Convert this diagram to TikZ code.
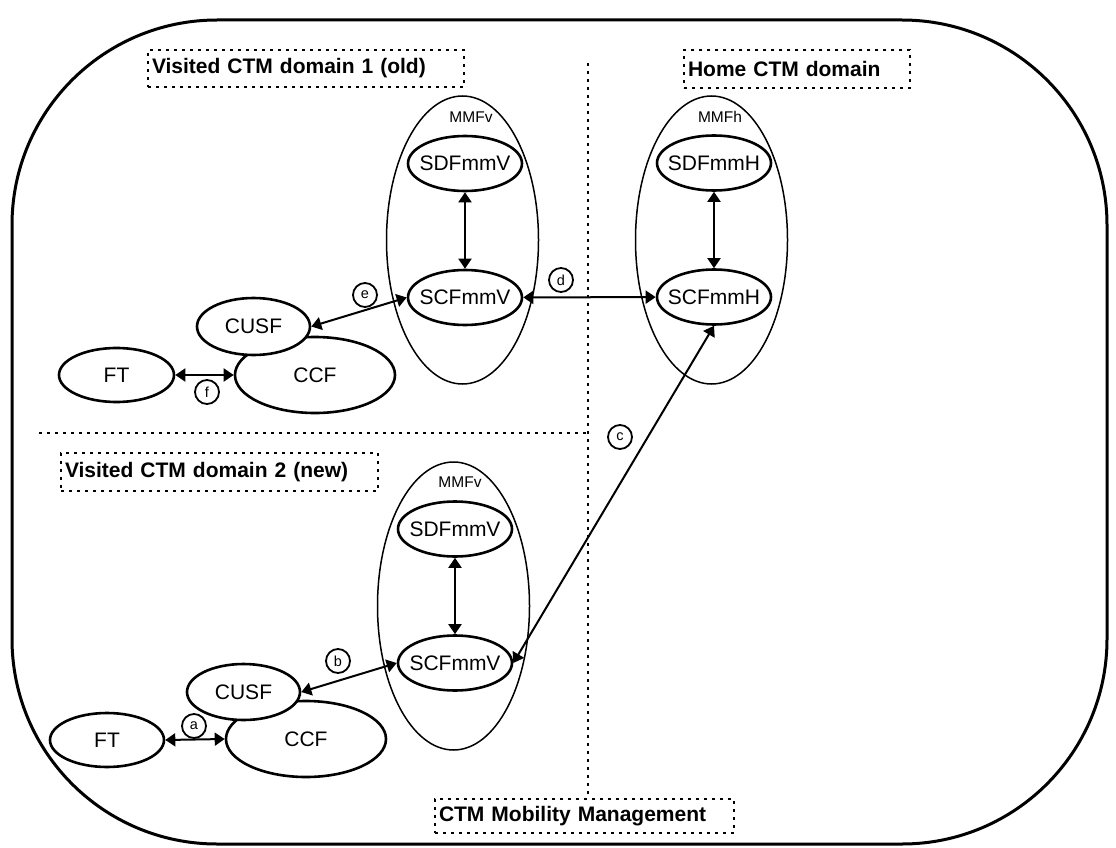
\documentclass[tikz,border=0pt]{standalone}
\usepackage{fontspec}
\setmainfont{Liberation Sans}
\usetikzlibrary{shapes.geometric, arrows.meta, positioning}

\begin{document}
\begin{tikzpicture}[x=1pt, y=1pt, node distance=134pt, >={Triangle[length=10pt, width=13pt]}, font=\fontsize{21pt}{24pt}\selectfont,
    func/.style = {draw, fill=white, ellipse, line width=2.6pt, inner sep=0pt, minimum width=114pt, minimum height=55pt,
                   execute at begin node={\hbox to 0pt\bgroup\hss}, execute at end node={\hss\egroup}},
    mmf/.style = {draw, ellipse, line width=1.5pt, minimum width=152pt, minimum height=288pt},
    dom/.style = {draw, line width=2pt, dash pattern=on 3pt off 5pt, anchor=north west, align=left, inner xsep=4pt, inner ysep=0pt,
                  font=\fontsize{21pt}{24pt}\selectfont\bfseries},
    iface/.style = {draw, circle, line width=1.8pt, minimum size=24pt, inner sep=0pt, font=\fontsize{14.5pt}{16pt}\selectfont},
    sub/.style = {font=\fontsize{15.5pt}{18pt}\selectfont},
    link/.style = {<->, line width=2pt},
    divider/.style = {line width=2pt, dash pattern=on 3pt off 5pt}]
    \useasboundingbox (0,0) rectangle (1116,-848);
    % frame and domain borders
    \draw[line width=3pt, rounded corners=205pt] (12,-20) rectangle (1107,-844);
    \draw[divider] (588,-63) -- (588,-798);
    \draw[divider] (39,-433) -- (588,-433);
    \node[dom, text width=308pt, minimum height=37pt] (dom1) at (147,-49) {Visited CTM domain 1 (old)};
    \node[dom, text width=218pt, minimum height=38pt] (home) at (683,-49) {Home CTM domain};
    \node[dom, text width=309pt, minimum height=38pt] (dom2) at (60,-452) {Visited CTM domain 2 (new)};
    \node[dom, text width=291pt, minimum height=34pt] (mobility) at (434,-798) {CTM Mobility Management};
    % mobility management functions
    \node[mmf] (mmfv1) at (462.5,-240) {};
    \node[mmf] (mmfh) at (711.5,-240) {};
    \node[mmf] (mmfv2) at (453.5,-606) {};
    \node[sub] (mmfv1name) at (471,-117) {MMFv};
    \node[sub] (mmfhname) at (720,-117) {MMFh};
    \node[sub] (mmfv2name) at (460,-482) {MMFv};
    \node[func] (sdfv1) at (465,-163.5) {SDFmmV};
    \node[func] (scfv1) [below of=sdfv1] {SCFmmV};
    \node[func] (sdfh) at (714,-163) {SDFmmH};
    \node[func] (scfh) [below of=sdfh] {SCFmmH};
    \node[func] (sdfv2) at (455,-529) {SDFmmV};
    \node[func] (scfv2) [below of=sdfv2] {SCFmmV};
    % old visited domain
    \node[func, minimum width=160pt, minimum height=76pt] (ccf1) at (315,-375) {CCF};
    \node[func, minimum width=113pt, minimum height=57pt] (cusf1) at (253.5,-326.5) {CUSF};
    \node[func, minimum width=115pt, minimum height=54pt] (ft1) at (116.5,-375) {FT};
    % new visited domain
    \node[func, minimum width=160pt, minimum height=76pt] (ccf2) at (306,-739) {CCF};
    \node[func, minimum width=113pt, minimum height=56pt] (cusf2) at (243.5,-692) {CUSF};
    \node[func, minimum width=114pt, minimum height=54pt] (ft2) at (107,-740) {FT};
    % reference points
    \draw[link] (sdfv1) -- (scfv1);
    \draw[link] (sdfh) -- (scfh);
    \draw[link] (sdfv2) -- (scfv2);
    \draw[link] (scfv1) -- (scfh);
    \draw[link] (cusf1.east) -- (scfv1.west);
    \draw[link] (ft1) -- (ccf1);
    \draw[link] (cusf2.east) -- (scfv2.west);
    \draw[link] (ft2.east) -- (ccf2.west);
    \draw[link] (scfv2.east) -- (scfh.south);
    \node[iface] (ifa) at (194,-726) {a};
    \node[iface] (ifb) at (338,-661) {b};
    \node[iface] (ifc) at (620,-437) {c};
    \node[iface] (ifd) at (561,-280) {d};
    \node[iface] (ife) at (365,-295) {e};
    \node[iface] (iff) at (207,-392) {f};
\end{tikzpicture}
\end{document}
